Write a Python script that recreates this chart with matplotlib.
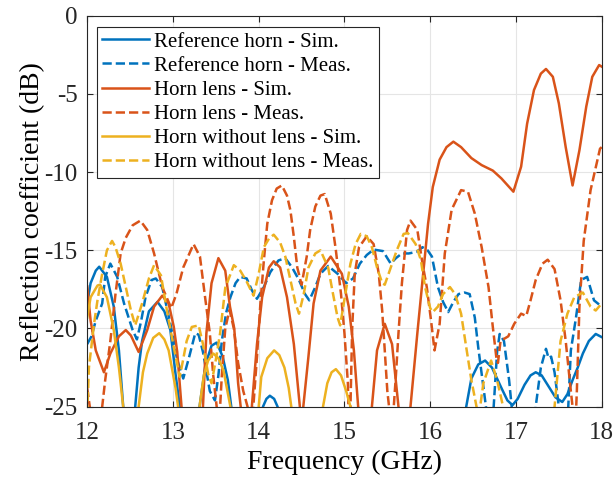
import numpy as np
import matplotlib
matplotlib.use('Agg')
from matplotlib import pyplot as plt

# colours (MATLAB default order)
c_blue = '#0072BD'
c_orange = '#D95319'
c_yellow = '#EDB120'

# Reference horn - Sim.
ref_sim_f = [12.0, 12.04, 12.10, 12.14, 12.23, 12.31, 12.37, 12.42, 12.45, 12.53, 12.56, 12.60,
             12.64, 12.72, 12.82, 12.90, 12.97, 13.03, 13.08, 13.12, 13.27, 13.31, 13.38, 13.45,
             13.51, 13.58, 13.64, 13.68, 13.72, 14.02, 14.05, 14.09, 14.13, 14.18, 14.22, 14.26,
             16.38, 16.42, 16.48, 16.56, 16.64, 16.72, 16.83, 16.90, 16.96, 17.02, 17.10, 17.17,
             17.23, 17.30, 17.38, 17.46, 17.54, 17.60, 17.66, 17.72, 17.78, 17.85, 17.93, 18.0]
ref_sim_db = [-18.4, -17.1, -16.3, -16.05, -16.7, -18.6, -21.4, -25, -28, -28, -25, -22.5,
              -20.8, -18.9, -18.3, -18.9, -20.1, -22.9, -25, -28, -28, -25, -22.3, -21.1,
              -20.9, -21.8, -23.3, -25, -28, -28, -25, -24.5, -24.3, -24.5, -25, -28,
              -28, -25, -23.2, -22.3, -22.05, -22.5, -23.8, -24.6, -24.9, -24.5, -23.6, -23.0,
              -22.8, -23.0, -23.7, -24.4, -24.7, -24.2, -23.3, -22.5, -21.6, -20.8, -20.35, -20.55]

# Reference horn - Meas.
ref_meas_f = [12.0, 12.05, 12.10, 12.175, 12.21, 12.27, 12.35, 12.43, 12.53, 12.58, 12.63, 12.68,
              12.75, 12.80, 12.875, 12.97, 13.05, 13.12, 13.19, 13.26, 13.30, 13.35, 13.43, 13.49,
              13.53, 13.57, 13.62, 13.67, 13.73, 13.785, 13.86, 13.92, 13.98, 14.06, 14.135, 14.23,
              14.31, 14.39, 14.47, 14.54, 14.59, 14.66, 14.72, 14.81, 14.92, 15.02, 15.10, 15.18,
              15.26, 15.34, 15.45, 15.50, 15.54, 15.60, 15.67, 15.75, 15.84, 15.91, 15.97, 16.02,
              16.09, 16.15, 16.21, 16.27, 16.33, 16.40, 16.46, 16.52, 16.56, 16.60, 16.65, 16.70,
              16.74, 16.78, 16.81, 16.86, 16.92, 16.95, 16.99, 17.20, 17.23, 17.29, 17.35, 17.38,
              17.41, 17.45, 17.50, 17.55, 17.58, 17.61, 17.64, 17.70, 17.76, 17.83, 17.91, 18.0]
ref_meas_db = [-21.0, -20.5, -19.5, -18.4, -16.7, -15.85, -16.7, -18.4, -20.1, -20.7, -19.5, -18.0,
               -16.9, -16.8, -17.35, -19.7, -22.0, -23.2, -21.8, -20.3, -20.4, -21.5, -24.0, -24.6,
               -23.0, -20.8, -19.0, -18.0, -17.1, -16.7, -16.8, -17.55, -18.1, -17.35, -16.4, -15.65,
               -15.5, -16.1, -16.9, -17.8, -18.2, -17.35, -16.5, -16.0, -16.5, -17.1, -16.8, -15.85,
               -15.3, -14.95, -15.05, -15.5, -15.85, -15.5, -15.2, -15.2, -15.1, -14.8, -15.0, -15.4,
               -17.35, -18.3, -18.95, -18.3, -17.8, -17.7, -17.8, -19.3, -21.2, -22.9, -25, -28,
               -25, -21.5, -20.35, -20.8, -23.3, -25, -28, -28, -25, -22.5, -21.3, -21.9,
               -21.8, -22.8, -25, -28, -28, -25, -21.4, -19.3, -16.9, -16.7, -18.2, -18.6]

# Horn lens - Sim.
lens_sim_f = [12.0, 12.04, 12.10, 12.195, 12.27, 12.37, 12.45, 12.51, 12.60, 12.70, 12.78, 12.875,
              12.95, 13.01, 13.05, 13.10, 13.14, 13.31, 13.35, 13.39, 13.45, 13.53, 13.61, 13.665,
              13.715, 13.76, 13.79, 13.83, 13.88, 13.92, 13.98, 14.04, 14.12, 14.175, 14.25, 14.33,
              14.41, 14.48, 14.50, 14.52, 14.58, 14.64, 14.72, 14.84, 14.97, 15.05, 15.11, 15.16,
              15.20, 15.29, 15.32, 15.38, 15.47, 15.555, 15.63, 15.66, 15.74, 15.77, 15.85, 15.925,
              15.975, 16.03, 16.11, 16.19, 16.27, 16.36, 16.48, 16.60, 16.73, 16.83, 16.97, 17.06,
              17.13, 17.21, 17.29, 17.35, 17.43, 17.50, 17.58, 17.66, 17.74, 17.82, 17.89, 17.97, 18.0]
lens_sim_db = [-17.3, -19.5, -21.4, -22.8, -21.6, -20.5, -20.1, -20.45, -21.5, -20.1, -18.6, -17.9,
               -18.4, -19.9, -21.5, -25, -28, -28, -25, -20.3, -17.1, -15.5, -16.3, -18.6,
               -20.0, -23.5, -25, -28, -28, -25, -21.0, -18.0, -16.1, -15.7, -16.1, -18.0,
               -21.0, -25, -27, -25, -21.8, -18.4, -16.3, -15.4, -16.5, -18.6, -21.4, -25,
               -28, -28, -25, -21.4, -19.7, -21.0, -25, -28, -28, -25, -20.3, -16.1,
               -13.3, -10.95, -9.2, -8.4, -8.05, -8.4, -9.1, -9.55, -9.9, -10.4, -11.25, -9.65,
               -6.9, -4.75, -3.7, -3.4, -3.9, -5.6, -8.4, -10.85, -8.6, -5.8, -3.9, -3.15, -3.25]

# Horn lens - Meas.
lens_meas_f = [12.0, 12.03, 12.06, 12.15, 12.175, 12.21, 12.27, 12.33, 12.39, 12.45, 12.53, 12.62,
               12.70, 12.78, 12.875, 12.98, 13.04, 13.12, 13.24, 13.315, 13.37, 13.43, 13.47, 13.51,
               13.54, 13.57, 13.61, 13.66, 13.71, 13.76, 13.82, 13.87, 13.90, 13.94, 13.98, 14.02,
               14.06, 14.10, 14.155, 14.21, 14.27, 14.33, 14.37, 14.41, 14.45, 14.50, 14.56, 14.60,
               14.66, 14.72, 14.77, 14.84, 14.90, 14.96, 15.0, 15.04, 15.055, 15.07, 15.09, 15.12,
               15.17, 15.26, 15.34, 15.40, 15.44, 15.47, 15.50, 15.52, 15.545, 15.575, 15.60, 15.63,
               15.67, 15.73, 15.77, 15.85, 15.91, 15.96, 16.01, 16.05, 16.11, 16.17, 16.25, 16.36,
               16.44, 16.52, 16.60, 16.68, 16.73, 16.77, 16.79, 16.82, 16.91, 16.98, 17.06, 17.12,
               17.17, 17.23, 17.31, 17.37, 17.45, 17.52, 17.58, 17.64, 17.66, 17.68, 17.71, 17.74,
               17.79, 17.87, 17.98, 18.0]
lens_meas_db = [-23.8, -25, -28, -28, -25, -23.3, -20.8, -17.8, -15.2, -14.2, -13.4, -13.1,
                -13.7, -15.2, -17.35, -18.7, -17.8, -16.1, -14.6, -15.4, -17.8, -20.3, -23.0, -25,
                -26, -23.0, -20.0, -18.8, -20.0, -22.2, -24.0, -25, -28, -24.8, -21.8, -18.4,
                -15.65, -13.3, -11.8, -11.05, -10.85, -11.5, -12.45, -14.15, -16.1, -17.2, -15.4, -13.7,
                -12.2, -11.5, -11.4, -12.65, -15.0, -17.8, -20.3, -23.5, -27, -25, -20.0, -16.5,
                -14.8, -14.1, -14.6, -16.5, -18.85, -21.4, -24.0, -25, -28, -25, -23.0, -20.3,
                -17.1, -13.7, -13.1, -13.7, -15.85, -17.35, -19.5, -21.4, -19.7, -15.2, -12.4, -11.15,
                -11.25, -12.65, -14.8, -17.35, -19.9, -21.8, -22.2, -20.8, -20.5, -19.7, -19.05, -19.2,
                -18.2, -16.9, -15.85, -15.6, -16.2, -18.2, -20.8, -24.0, -25, -28, -24.0, -18.6,
                -14.4, -11.15, -8.5, -8.4]

# Horn without lens - Sim.
nolens_sim_f = [12.0, 12.04, 12.12, 12.15, 12.23, 12.31, 12.37, 12.42, 12.46, 12.56, 12.60, 12.65,
                12.70, 12.77, 12.84, 12.90, 12.95, 13.03, 13.06, 13.10, 13.27, 13.31, 13.36, 13.41,
                13.47, 13.53, 13.59, 13.67, 13.71, 13.97, 14.00, 14.03, 14.10, 14.18, 14.24, 14.30,
                14.35, 14.38, 14.42, 14.71, 14.75, 14.80, 14.85, 14.90, 14.96, 15.02, 15.07, 15.11, 18.0]
nolens_sim_db = [-19.3, -18.0, -17.25, -17.2, -18.0, -20.1, -22.5, -25, -28, -28, -25, -22.8,
                 -21.6, -20.6, -20.3, -20.7, -21.4, -23.8, -25, -28, -28, -25, -23.0, -22.05,
                 -21.6, -21.9, -22.7, -25, -28, -28, -25, -23.1, -21.9, -21.4, -21.7, -22.5,
                 -23.8, -25, -28, -28, -25, -23.5, -22.8, -22.6, -23.0, -24.0, -25, -28, -28]

# Horn without lens - Meas.
nolens_meas_f = [12.0, 12.02, 12.08, 12.12, 12.175, 12.23, 12.29, 12.33, 12.39, 12.45, 12.51, 12.56,
                 12.64, 12.72, 12.78, 12.86, 12.93, 13.01, 13.08, 13.16, 13.22, 13.30, 13.35, 13.41,
                 13.45, 13.50, 13.55, 13.61, 13.71, 13.785, 13.86, 13.94, 14.0, 14.06, 14.12, 14.175,
                 14.25, 14.31, 14.37, 14.43, 14.47, 14.525, 14.58, 14.66, 14.72, 14.81, 14.86, 14.92,
                 14.95, 15.01, 15.07, 15.13, 15.19, 15.26, 15.32, 15.38, 15.44, 15.47, 15.54, 15.61,
                 15.69, 15.74, 15.83, 15.89, 15.94, 16.0, 16.03, 16.09, 16.15, 16.23, 16.29, 16.36,
                 16.42, 16.48, 16.54, 16.57, 16.62, 16.71, 16.78, 16.85, 16.90, 17.40, 17.45, 17.52,
                 17.60, 17.68, 17.78, 17.87, 17.93, 18.0]
nolens_meas_db = [-25.5, -22.5, -19.7, -18.2, -16.5, -15.0, -14.4, -14.8, -15.85, -17.35, -18.85, -19.8,
                  -18.4, -16.8, -15.95, -16.6, -18.85, -21.2, -23.1, -20.8, -19.9, -19.8, -21.0, -22.9,
                  -23.5, -22.0, -20.3, -17.4, -15.95, -16.3, -17.0, -17.9, -16.5, -14.8, -14.25, -14.0,
                  -14.5, -15.4, -16.9, -18.4, -19.05, -17.8, -16.1, -15.2, -15.0, -16.1, -17.6, -19.3,
                  -19.8, -17.8, -15.85, -14.6, -13.95, -14.1, -14.8, -16.1, -17.1, -17.2, -16.1, -15.0,
                  -13.95, -13.9, -14.6, -15.6, -17.35, -18.7, -18.95, -18.6, -17.8, -17.35, -17.8, -19.05,
                  -21.2, -23.3, -25, -25.5, -23.5, -22.05, -23.3, -25, -28, -28, -25, -20.8,
                  -19.05, -18.0, -17.7, -18.6, -18.85, -18.4]

x_ticks = [12, 13, 14, 15, 16, 17, 18]
y_ticks = [0, -5, -10, -15, -20, -25]

plt.rcParams['font.family'] = ['Liberation Serif', 'DejaVu Serif']
plt.rcParams['axes.unicode_minus'] = False

fig = plt.figure(figsize=(6.14, 4.79), dpi=100)
ax = fig.add_axes([0.142, 0.151, 0.838, 0.816])

lw = 1.8
ax.plot(ref_sim_f, ref_sim_db, color=c_blue, lw=lw, label='Reference horn - Sim.')
ax.plot(ref_meas_f, ref_meas_db, color=c_blue, lw=lw, ls='--', label='Reference horn - Meas.')
ax.plot(lens_sim_f, lens_sim_db, color=c_orange, lw=lw, label='Horn lens - Sim.')
ax.plot(lens_meas_f, lens_meas_db, color=c_orange, lw=lw, ls='--', label='Horn lens - Meas.')
ax.plot(nolens_sim_f, nolens_sim_db, color=c_yellow, lw=lw, label='Horn without lens - Sim.')
ax.plot(nolens_meas_f, nolens_meas_db, color=c_yellow, lw=lw, ls='--', label='Horn without lens - Meas.')

ax.set_xlim(12, 18)
ax.set_ylim(-25, 0)
ax.set_xticks(x_ticks)
ax.set_yticks(y_ticks)
ax.grid(True, color='#E5E5E5', lw=0.8)
ax.set_axisbelow(True)
ax.tick_params(direction='in', length=4, width=0.8, labelsize=18, colors='#262626',
               top=True, right=True)
ax.tick_params(axis='x', pad=11)
ax.tick_params(axis='y', pad=7)
for s in ax.spines.values():
    s.set_color('#262626')
    s.set_linewidth(0.8)

ax.set_xlabel('Frequency (GHz)', fontsize=20, labelpad=4)
ax.set_ylabel('Reflection coefficient (dB)', fontsize=20, labelpad=-1)

leg = ax.legend(loc='upper left', bbox_to_anchor=(0.019, 0.972), fontsize=15,
                handlelength=2.26, handletextpad=0.25, labelspacing=0.22,
                borderpad=0.25, borderaxespad=0, fancybox=False, framealpha=1,
                edgecolor='#262626')
leg.get_frame().set_linewidth(0.8)

fig.savefig('out.png', dpi=100)
